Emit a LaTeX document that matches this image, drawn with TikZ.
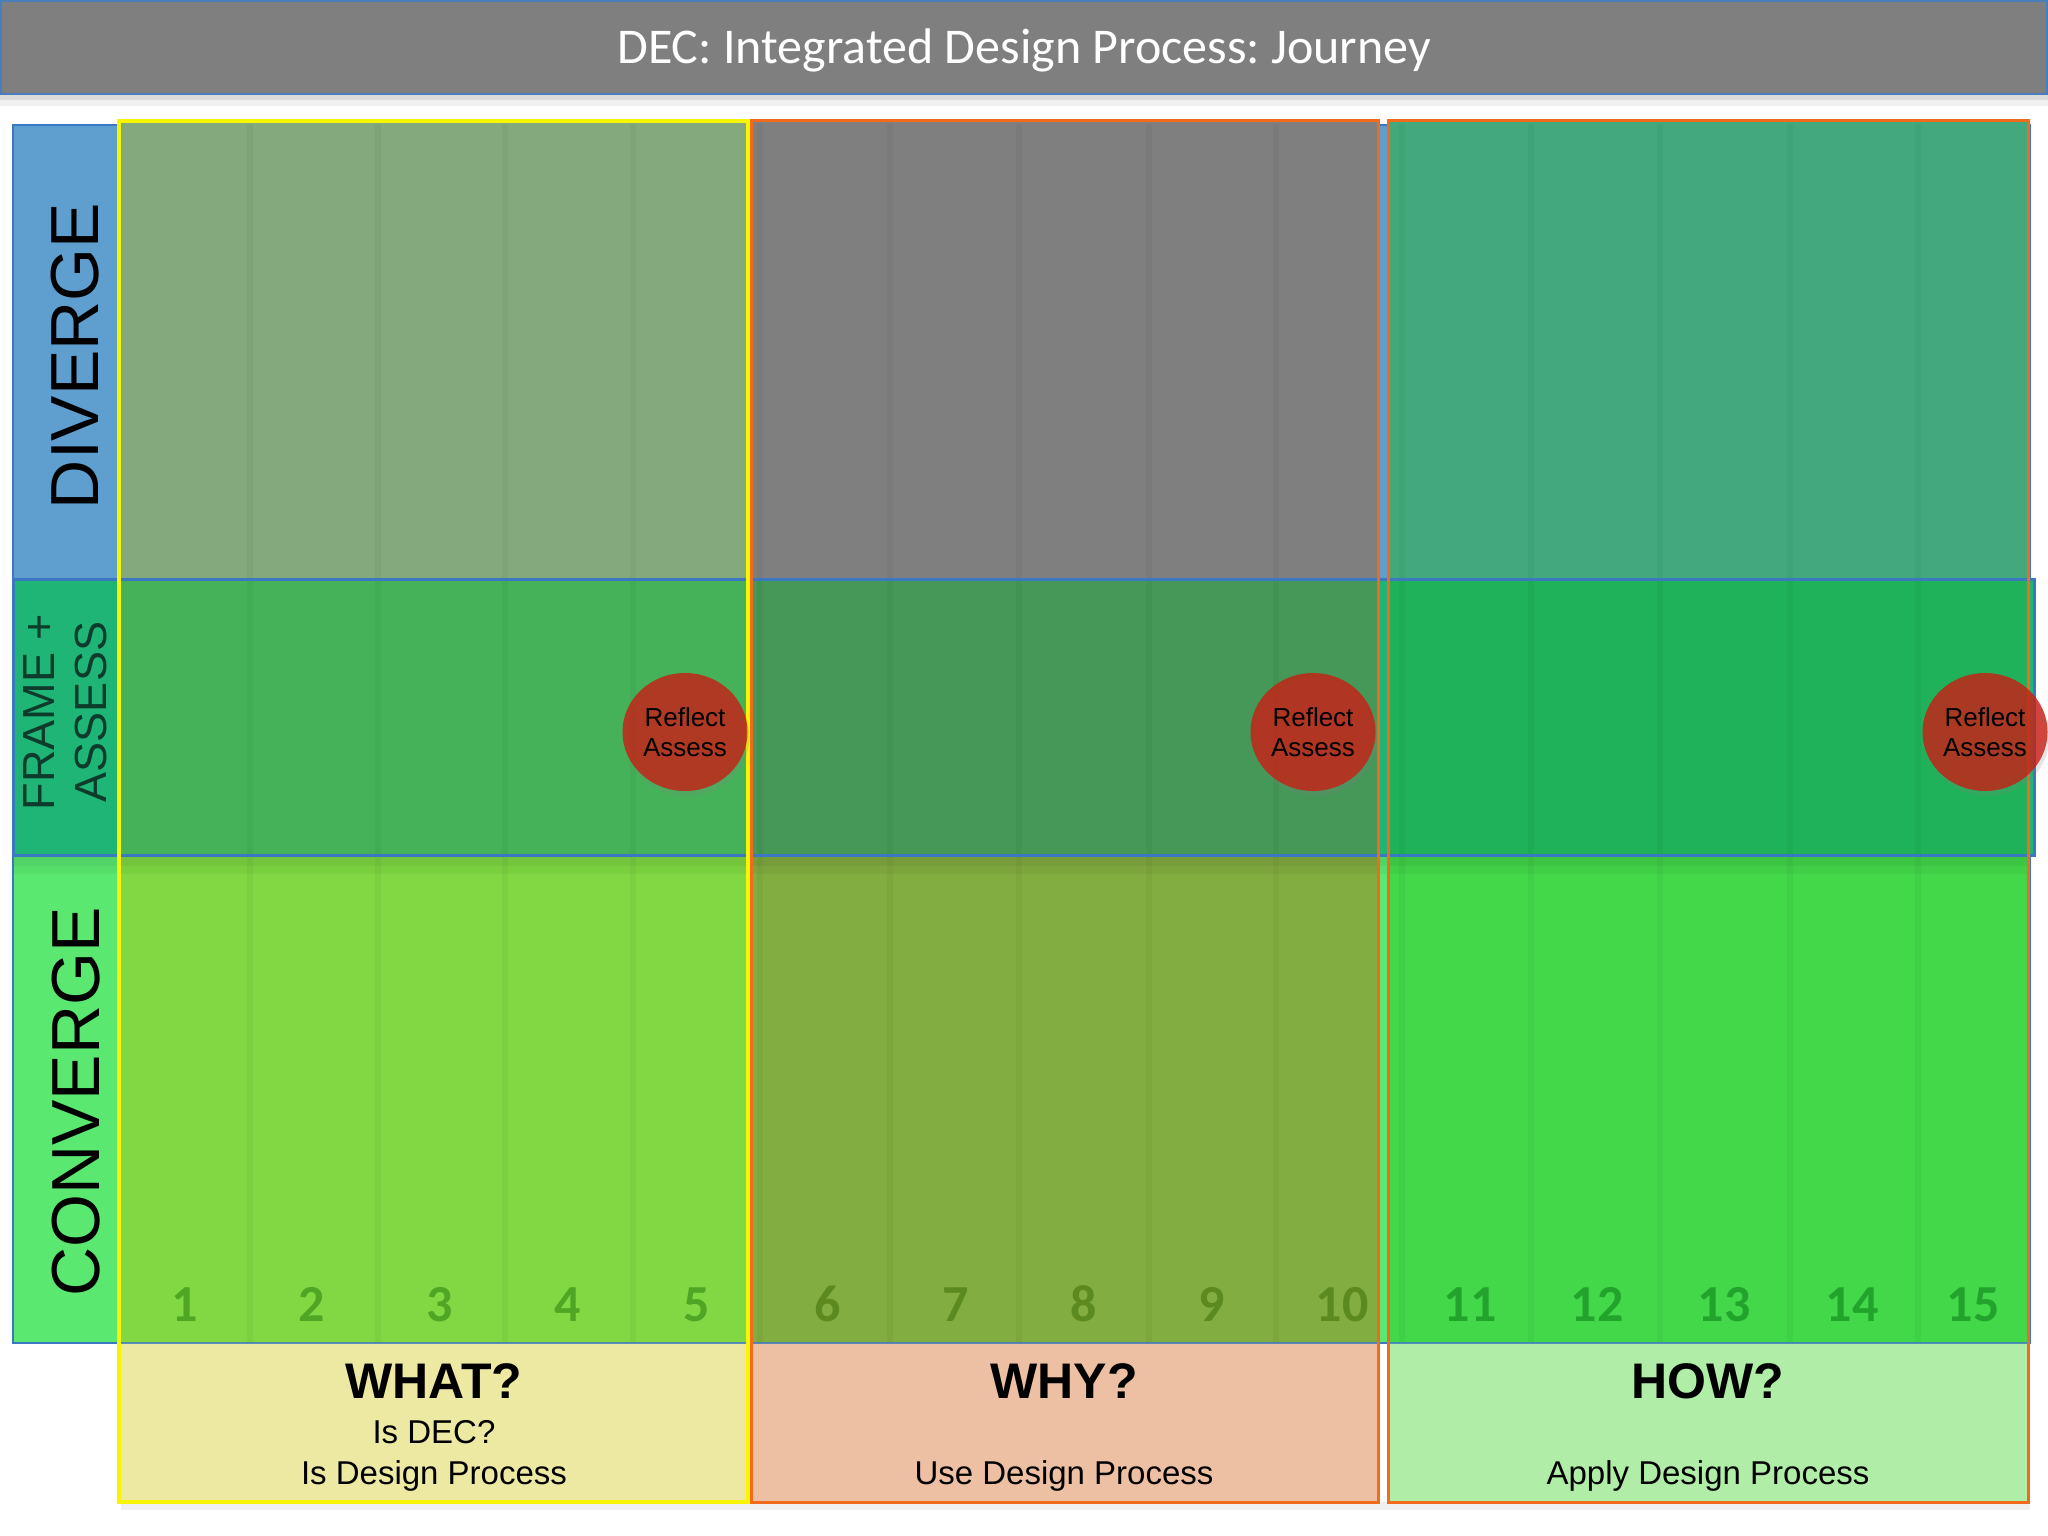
\documentclass[tikz,border=0pt]{standalone}
\usepackage{fontspec}
\setmainfont{Liberation Sans}
\newfontfamily\carlfont{Carlito}
\usetikzlibrary{shapes.geometric,shadows}
\frenchspacing
\definecolor{titlegray}{HTML}{7F7F7F}
\definecolor{titleborder}{HTML}{4A7EBB}
\definecolor{divlab}{HTML}{5F9FD0}
\definecolor{framelab}{HTML}{1FB576}
\definecolor{convlab}{HTML}{5AE870}
\definecolor{gAd}{HTML}{83A97C}
\definecolor{gAf}{HTML}{45B25A}
\definecolor{gAc}{HTML}{80D843}
\definecolor{gAb}{HTML}{EDE9A3}
\definecolor{gBd}{HTML}{7F7F7F}
\definecolor{gBf}{HTML}{459858}
\definecolor{gBc}{HTML}{82AD40}
\definecolor{gBb}{HTML}{EEC0A3}
\definecolor{gCd}{HTML}{43A97C}
\definecolor{gCf}{HTML}{1FB25A}
\definecolor{gCc}{HTML}{43D84A}
\definecolor{gCb}{HTML}{B0EDA6}
\definecolor{bandblue}{HTML}{3A78C2}
\definecolor{yelline}{HTML}{F8F500}
\definecolor{orline}{HTML}{F26B1D}
\definecolor{reflred}{HTML}{C81E14}
\definecolor{numA}{HTML}{4EA624}
\definecolor{numB}{HTML}{5A8A20}
\definecolor{numC}{HTML}{22A42C}
\definecolor{framecol}{HTML}{0D3B2C}
\begin{document}
\begin{tikzpicture}[x=1pt,y=-1pt]
\tikzset{
  bigtitle/.style={font=\carlfont\fontsize{50}{60}\selectfont, text=white, anchor=base, inner sep=0},
  rowlabel/.style={font=\fontsize{68}{80}\selectfont, rotate=90, text=black, inner sep=0},
  framelabel/.style={font=\fontsize{45}{52}\selectfont, rotate=90, align=center, text=framecol, inner sep=0},
  stepnum/.style={font=\carlfont\bfseries\fontsize{52}{60}\selectfont, anchor=base, inner sep=0},
  qhead/.style={font=\bfseries\fontsize{50}{60}\selectfont, anchor=base, inner sep=0},
  qsub/.style={font=\fontsize{33}{40}\selectfont, anchor=base, inner sep=0},
  refl/.style={ellipse, minimum width=125, minimum height=118, inner sep=0,
    fill=reflred, fill opacity=0.8, text opacity=1, align=center,
    font=\fontsize{26}{30}\selectfont,
    drop shadow={opacity=0.2, shadow xshift=2pt, shadow yshift=-5pt}},
  colsep/.style={draw=black, draw opacity=0.035, line width=6},
  groupA/.style={draw=yelline, line width=3.5},
  groupB/.style={draw=orline, line width=3},
}
\useasboundingbox (0,0) rectangle (2048,1536);
\fill[white] (0,0) rectangle (2048,1536);

% title bar
\fill[black, opacity=0.14] (0,95) rectangle (2048,100);
\fill[black, opacity=0.06] (0,100) rectangle (2048,106);
\filldraw[fill=titlegray, draw=titleborder, line width=2] (1,1) rectangle (2047,94);
\node[bigtitle] (title) at (1024,64) {DEC: Integrated Design Process: Journey};

% row backgrounds (label column and gaps)
\filldraw[fill=divlab, draw=bandblue, line width=2.5] (13,125) rectangle (2030,579);
\filldraw[fill=convlab, draw=bandblue, line width=2.5] (13,855) rectangle (2030,1343);
\fill[framelab] (13,579) rectangle (2034,855);

% bottom shadows
\fill[black, opacity=0.06] (121,1502) rectangle (2030,1510);

% group A cells
\fill[gAd] (119,121) rectangle (748,579);
\fill[gAf] (119,579) rectangle (748,855);
\fill[gAc] (119,855) rectangle (748,1343);
\fill[gAb] (119,1343) rectangle (748,1502);
% group B cells
\fill[gBd] (751,121) rectangle (1378,579);
\fill[gBf] (751,579) rectangle (1378,855);
\fill[gBc] (751,855) rectangle (1378,1343);
\fill[gBb] (751,1343) rectangle (1378,1502);
% group C cells
\fill[gCd] (1388,121) rectangle (2028,579);
\fill[gCf] (1388,579) rectangle (2028,855);
\fill[gCc] (1388,855) rectangle (2028,1343);
\fill[gCb] (1388,1343) rectangle (2028,1502);

% column separators
\foreach \cx in {250,378,505,633,760,890,1019,1149,1276,1402,1531,1660,1790,1918}
  \draw[colsep] (\cx,124) -- (\cx,1343);

% shadow under frame band
\fill[black, opacity=0.09] (13,855) rectangle (2030,866);
\fill[black, opacity=0.04] (13,866) rectangle (2030,874);
% bottom edge line of converge row
\draw[bandblue, line width=2.5, draw opacity=0.8] (13,1343) -- (2030,1343);

% frame band outline
\draw[bandblue, line width=3] (13,579) rectangle (2034,855);
\draw[bandblue, line width=2.5] (13,125) -- (13,1343);

% group borders
\draw[groupA] (119,121) rectangle (748,1502);
\draw[groupB] (751,121) rectangle (1378,1502);
\draw[groupB] (1388,121) rectangle (2028,1502);

% row labels
\node[rowlabel] (diverge) at (75,356) {DIVERGE};
\node[framelabel] (frame) at (65,712) {FRAME +\\ASSESS};
\node[rowlabel] (converge) at (76,1102) {CONVERGE};

% step numbers
\foreach \n/\px/\col in {1/185/numA,2/312/numA,3/440/numA,4/568/numA,5/697/numA,
  6/828/numB,7/956/numB,8/1084/numB,9/1212/numB,10/1342/numB,
  11/1470/numC,12/1597/numC,13/1724/numC,14/1852/numC,15/1973/numC}
  \node[stepnum, text=\col] (num\n) at (\px,1321) {\n};

% reflect/assess circles
\node[refl] (reflA) at (685,732) {Reflect\\Assess};
\node[refl] (reflB) at (1313,732) {Reflect\\Assess};
\node[refl] (reflC) at (1985,732) {Reflect\\Assess};

% bottom labels
\node[qhead] (what) at (434,1398) {WHAT?};
\node[qsub] (whatA) at (434,1443) {Is DEC?};
\node[qsub] (whatB) at (434,1484) {Is Design Process};
\node[qhead] (why) at (1064,1398) {WHY?};
\node[qsub] (whyA) at (1064,1484) {Use Design Process};
\node[qhead] (how) at (1708,1398) {HOW?};
\node[qsub] (howA) at (1708,1484) {Apply Design Process};
\end{tikzpicture}
\end{document}
